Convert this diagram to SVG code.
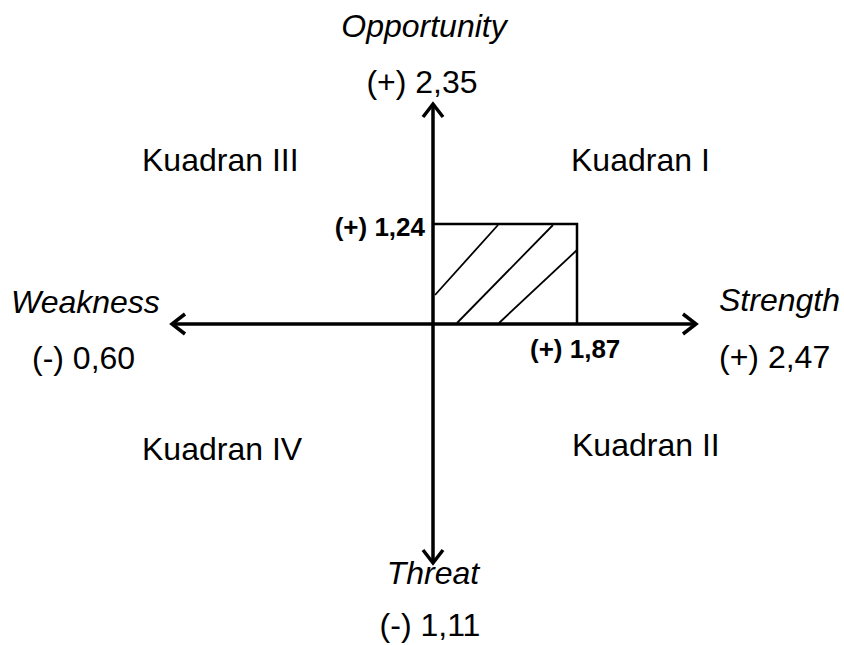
<svg xmlns="http://www.w3.org/2000/svg" width="844" height="645" viewBox="0 0 844 645">
<style>
text{font-family:"Liberation Sans",Arial,sans-serif;fill:#000}
.t{font-size:32px}
.i{font-size:32px;font-style:italic}
.b{font-size:26px;font-weight:bold}
.ax{stroke:#000;stroke-width:3.5;fill:none}
.ah{stroke:#000;stroke-width:3.5;fill:none;stroke-linecap:butt;stroke-linejoin:miter}
.r{stroke:#000;stroke-width:2.5;fill:none}
.h{stroke:#000;stroke-width:1.8;fill:none}
</style>
<rect width="844" height="645" fill="#fff"/>
<g id="area">
<path class="r" d="M433 224H577V324"/>
<line class="h" x1="435" y1="295" x2="498" y2="225"/>
<line class="h" x1="457" y1="323" x2="553" y2="225"/>
<line class="h" x1="499" y1="323" x2="577" y2="250"/>
</g>
<g id="connectors">
<line class="ax" x1="433" y1="105" x2="433" y2="562"/>
<line class="ax" x1="172" y1="324" x2="696" y2="324"/>
<polyline class="ah" points="423,117 433,104 443,117"/>
<polyline class="ah" points="423,550 433,563 443,550"/>
<polyline class="ah" points="185,314 172,324 185,334"/>
<polyline class="ah" points="683,314 696,324 683,334"/>
</g>
<g id="opportunity"><text class="i" x="424" y="37" text-anchor="middle">Opportunity</text><text class="t" x="422" y="93" text-anchor="middle">(+) 2,35</text></g>
<g id="threat"><text class="i" x="433" y="584" text-anchor="middle">Threat</text><text class="t" x="430" y="636" text-anchor="middle">(-) 1,11</text></g>
<g id="weakness"><text class="i" x="11" y="313">Weakness</text><text class="t" x="32" y="369">(-) 0,60</text></g>
<g id="strength"><text class="i" x="719" y="311">Strength</text><text class="t" x="719" y="368">(+) 2,47</text></g>
<g id="k3"><text class="t" x="142" y="171">Kuadran III</text></g>
<g id="k1"><text class="t" x="571" y="171">Kuadran I</text></g>
<g id="k4"><text class="t" x="142" y="460">Kuadran IV</text></g>
<g id="k2"><text class="t" x="572" y="456">Kuadran II</text></g>
<g id="v124"><text class="b" x="425" y="236" text-anchor="end">(+) 1,24</text></g>
<g id="v187"><text class="b" x="530" y="358">(+) 1,87</text></g>
</svg>
